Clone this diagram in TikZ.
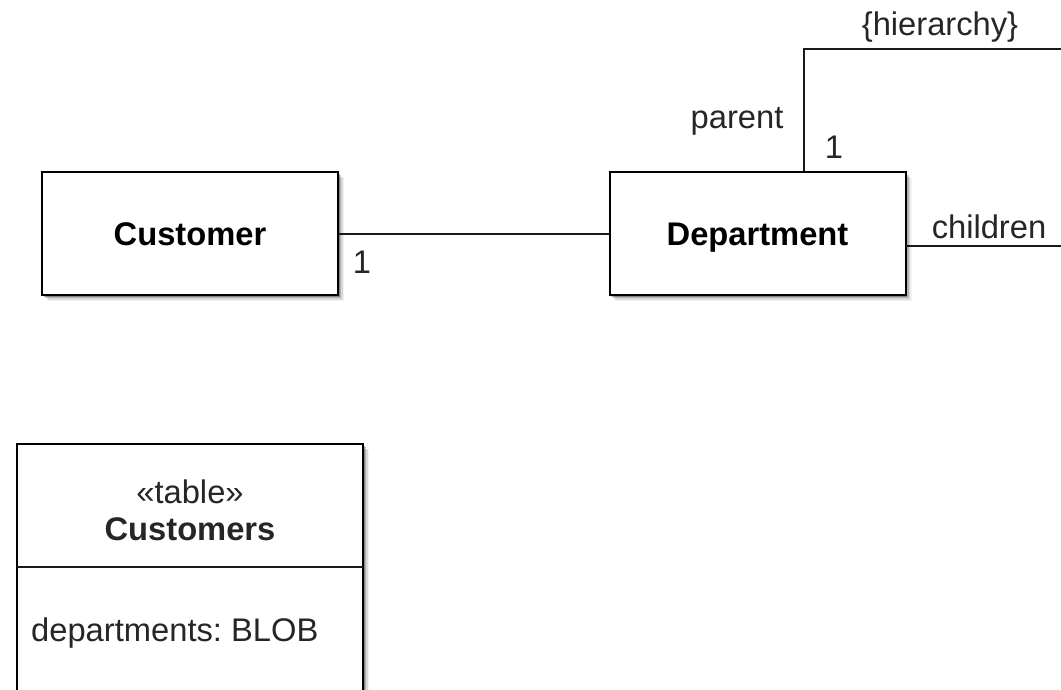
\documentclass[tikz,border=0pt]{standalone}
\usepackage{fontspec}
\setmainfont{Liberation Sans}
\usetikzlibrary{shadows}
\frenchspacing
\tikzset{
  softshadow/.style={
    drop shadow={shadow xshift=1.5pt,shadow yshift=-1.5pt,opacity=0.25,fill=black},
    drop shadow={shadow xshift=3pt,shadow yshift=-3pt,opacity=0.18,fill=black},
    drop shadow={shadow xshift=4.5pt,shadow yshift=-4.5pt,opacity=0.1,fill=black},
    drop shadow={shadow xshift=6pt,shadow yshift=-6pt,opacity=0.05,fill=black}},
  classbox/.style={draw=black,line width=2pt,fill=white,softshadow,
    minimum width=296pt,minimum height=123pt,inner sep=0pt,
    text height=23.5pt,text depth=0pt,
    font=\fontsize{32.7}{39}\selectfont\bfseries},
  conn/.style={line width=2pt,draw=black!90},
  lbl/.style={font=\fontsize{32.7}{39}\selectfont,inner sep=0pt,text=black!85},
}
\begin{document}
\begin{tikzpicture}[x=1pt,y=-1pt]
\clip (0,0) rectangle (1061,689);
\fill[white] (0,0) rectangle (1061,689);

% nodes
\node[classbox] (cust) at (190,233.5) {Customer};
\node[classbox] (dept) at (757.5,233.5) {Department};

\node[draw=black,line width=2pt,fill=white,softshadow,minimum width=346pt,minimum height=300pt,inner sep=0pt] (tbl) at (190,594) {};
\coordinate (divL) at (17,567);
\coordinate (divR) at (363,567);
\draw[conn] (divL) -- (divR);
\node[lbl] (stereo) at (190,492) {«table»};
\node[lbl,font=\fontsize{32.7}{39}\selectfont\bfseries] (tblname) at (190,529) {Customers};
\node[lbl,anchor=west] (attr) at (31,633) {departments: BLOB};

% connectors
\draw[conn] (cust.east) -- (dept.west);
\node[lbl] (m1) at (362,262) {1};

\coordinate (pTop) at (804,49);
\coordinate (pEnd) at (1080,49);
\draw[conn] (dept.north -| pTop) -- (pTop) -- (pEnd);
\coordinate (cStart) at (906,246);
\coordinate (cEnd) at (1080,246);
\draw[conn] (cStart) -- (cEnd);

\node[lbl] (hier) at (940,27) {\{hierarchy\}};
\node[lbl] (parent) at (737,121) {parent};
\node[lbl] (m2) at (834,147) {1};
\node[lbl] (children) at (989,227) {children};
\end{tikzpicture}
\end{document}
